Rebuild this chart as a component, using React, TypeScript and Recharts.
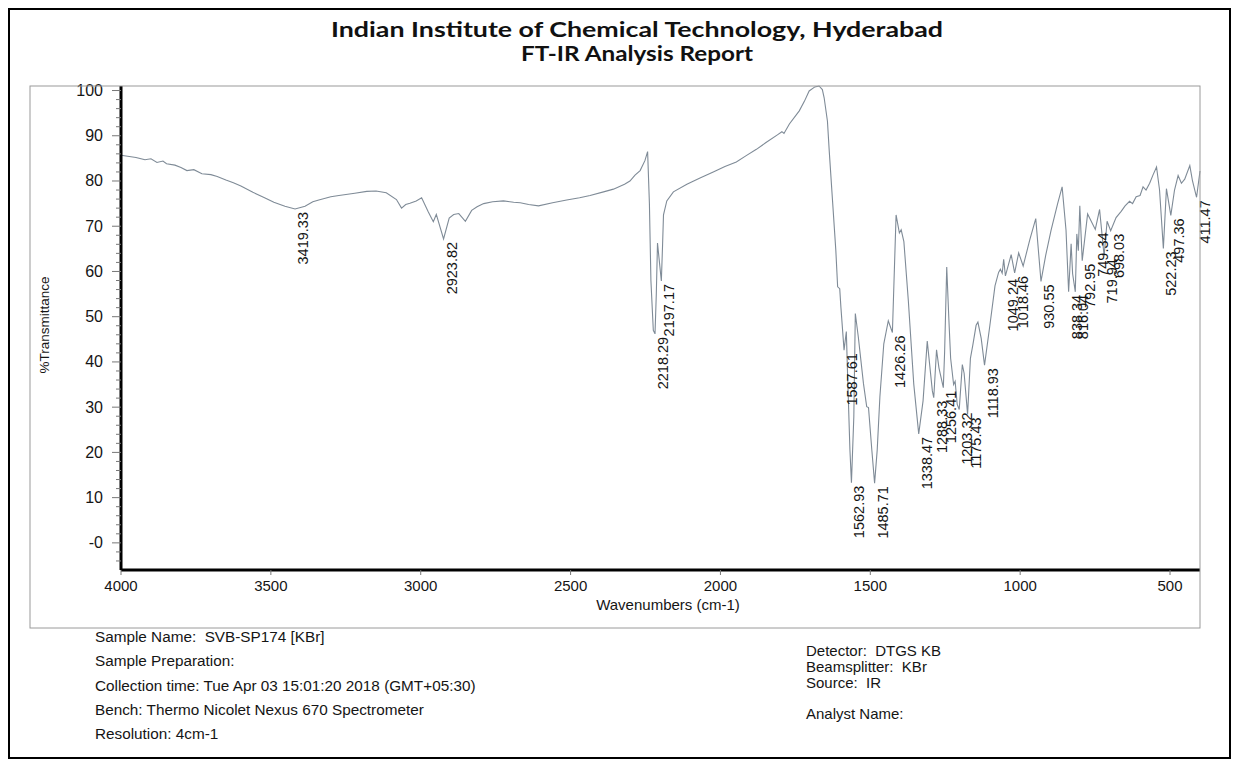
import React from "react";
import { Line, LineChart, XAxis, YAxis } from "recharts";

// FT-IR spectrum (wavenumber in cm-1, %T)
const wavenumbers = [
  4000, 3950, 3920, 3900, 3880, 3860, 3848, 3820, 3800, 3780,
  3757, 3730, 3700, 3679, 3650, 3625, 3600, 3560, 3521, 3490,
  3453, 3419.33, 3386, 3360, 3340, 3300, 3273, 3220, 3180, 3149,
  3115, 3081, 3064, 3050, 3036, 3015, 2997, 2975, 2958, 2948,
  2923.82, 2905, 2890, 2873, 2851, 2830, 2812, 2790, 2760, 2724,
  2690, 2668, 2640, 2607, 2560, 2513, 2470, 2435, 2390, 2357,
  2320, 2302, 2285, 2268, 2252, 2243, 2237, 2232, 2224, 2218.29,
  2214, 2210, 2205, 2197.17, 2193, 2190, 2179, 2157, 2112, 2070,
  2024, 1985, 1947, 1914, 1880, 1848, 1810, 1795, 1788, 1770,
  1737, 1720, 1704, 1685, 1671, 1660, 1654, 1643, 1637, 1626,
  1615, 1609, 1602, 1598, 1587.61, 1580, 1575, 1568, 1562.93, 1555,
  1550, 1540, 1523, 1512, 1506, 1495, 1485.71, 1477, 1468, 1455,
  1440, 1426.26, 1414, 1403, 1397, 1388, 1373, 1355, 1338.47, 1324,
  1310, 1293, 1288.33, 1279, 1271, 1256.41, 1252, 1245, 1238, 1232,
  1222, 1217, 1210, 1203.32, 1193, 1187, 1175.43, 1166, 1158, 1147,
  1141, 1130, 1118.93, 1101, 1084, 1072, 1066, 1060, 1055, 1049.24,
  1030, 1018.46, 1005, 990, 968, 948, 930.55, 915, 897, 875,
  860, 847, 838.34, 830, 825, 816.04, 811, 806, 801, 792.95,
  775, 749.34, 735, 719.94, 710, 698.03, 680, 663, 650, 635,
  625, 613, 600, 590, 580, 568, 557, 545, 535, 522.23,
  512, 497.36, 485, 473, 462, 451, 434, 425, 411.47, 400,
];

const transmittance = [
  85.7, 85.2, 84.7, 84.9, 84.1, 84.4, 83.8, 83.5, 83.0, 82.3,
  82.5, 81.6, 81.4, 81.0, 80.2, 79.6, 78.9, 77.5, 76.3, 75.3,
  74.4, 73.8, 74.4, 75.4, 75.8, 76.5, 76.8, 77.3, 77.7, 77.8,
  77.4, 75.9, 74.0, 74.8, 75.1, 75.6, 76.3, 73.2, 71.0, 72.6,
  67.2, 71.8, 72.6, 72.8, 71.1, 73.5, 74.3, 75.0, 75.4, 75.6,
  75.3, 75.2, 74.8, 74.5, 75.2, 75.8, 76.3, 76.8, 77.6, 78.2,
  79.3, 80.0, 81.3, 82.3, 84.5, 86.5, 75.0, 58.0, 47.0, 46.2,
  55.0, 66.3, 63.0, 57.9, 66.0, 72.5, 75.6, 77.6, 79.3, 80.6,
  82.0, 83.2, 84.2, 85.6, 87.0, 88.5, 90.2, 90.9, 90.5, 92.6,
  95.5, 97.6, 99.9, 100.8, 101.0, 100.2, 98.4, 93.2, 86.6, 75.6,
  64.6, 56.6, 56.2, 52.0, 42.6, 46.7, 35.4, 20.6, 13.3, 27.9,
  50.7, 45.5, 35.3, 30.1, 29.9, 20.6, 13.2, 20.5, 32.3, 44.0,
  49.1, 46.5, 72.5, 68.5, 69.2, 66.6, 53.4, 35.1, 24.1, 31.4,
  44.6, 33.6, 32.1, 42.7, 38.7, 34.3, 42.3, 61.0, 49.6, 40.8,
  35.0, 35.7, 30.6, 29.5, 39.4, 37.5, 28.4, 40.8, 43.7, 48.1,
  48.8, 45.2, 39.3, 48.1, 56.8, 59.8, 60.5, 59.6, 62.7, 59.0,
  63.7, 59.7, 64.1, 61.2, 67.0, 71.7, 57.8, 63.5, 69.1, 75.0,
  78.7, 69.1, 55.5, 66.1, 59.5, 55.5, 68.3, 64.6, 74.5, 62.4,
  72.7, 69.3, 73.7, 63.4, 71.1, 69.0, 71.9, 73.3, 74.5, 75.5,
  75.0, 76.5, 76.8, 78.7, 78.0, 79.5, 81.3, 83.1, 78.0, 65.1,
  78.3, 72.4, 78.0, 81.2, 79.5, 80.4, 83.4, 80.0, 76.4, 82.2,
];

const peakWavenumbers = [
  3419.33, 2923.82, 2218.29, 2197.17, 1587.61, 1562.93, 1485.71, 1426.26,
  1338.47, 1288.33, 1256.41, 1203.32, 1175.43, 1118.93, 1049.24, 1018.46,
  930.55, 838.34, 816.04, 792.95, 749.34, 719.94, 698.03, 522.23, 497.36,
  411.47,
];

const xTicks = [4000, 3500, 3000, 2500, 2000, 1500, 1000, 500];
const yTicks = [100, 90, 80, 70, 60, 50, 40, 30, 20, 10, 0];

const infoLeft = [
  "Sample Name:  SVB-SP174 [KBr]",
  "Sample Preparation:",
  "Collection time: Tue Apr 03 15:01:20 2018 (GMT+05:30)",
  "Bench: Thermo Nicolet Nexus 670 Spectrometer",
  "Resolution: 4cm-1",
];
const infoRight = ["Detector:  DTGS KB", "Beamsplitter:  KBr", "Source:  IR", "Analyst Name:"];

const W = 1223;
const H = 751;
const PLOT_LEFT = 113;
const PLOT_RIGHT = 1192;
const PLOT_TOP = 78;
const PLOT_BOTTOM = 562;
const FRAME_BOTTOM = 620;
const YAXIS_W = 80;
const XAXIS_H = 40;
const FONT = "'Liberation Sans', Arial, sans-serif";

const peakSet = new Set(peakWavenumbers);
const data = wavenumbers.map((wn, i) => ({
  wn,
  t: transmittance[i],
  peak: peakSet.has(wn),
}));

// minor ticks every 2 %T, labels only on the tens
const yAllTicks: number[] = [];
for (let v = -4; v <= 100; v += 2) yAllTicks.push(v);

function YTick(props: any) {
  const { y, payload } = props;
  const v = payload.value as number;
  const major = yTicks.includes(v);
  return (
    <g>
      <line
        x1={PLOT_LEFT - (major ? 9 : 5)}
        x2={PLOT_LEFT}
        y1={y}
        y2={y}
        stroke="#777"
        strokeWidth={1}
      />
      {major && (
        <text
          x={PLOT_LEFT - 18}
          y={y + 5.5}
          textAnchor="end"
          fontSize={16}
          fontFamily={FONT}
          fill="#151515"
        >
          {v === 0 ? "-0" : v}
        </text>
      )}
    </g>
  );
}

function XTick(props: any) {
  const { x, payload } = props;
  return (
    <g>
      <line x1={x} x2={x} y1={PLOT_BOTTOM} y2={PLOT_BOTTOM + 5} stroke="#777" />
      <text
        x={x}
        y={PLOT_BOTTOM + 21}
        textAnchor="middle"
        fontSize={15}
        fontFamily={FONT}
        fill="#151515"
      >
        {payload.value}
      </text>
    </g>
  );
}

function PeakLabel(props: any) {
  const { cx, cy, payload, index } = props;
  if (!payload || !payload.peak || cx == null || cy == null) {
    return <g key={`p${index}`} />;
  }
  const tx = cx + 13;
  const ty = cy + 3;
  return (
    <text
      key={`p${index}`}
      x={tx}
      y={ty}
      transform={`rotate(-90 ${tx} ${ty})`}
      textAnchor="end"
      fontSize={14.5}
      fontFamily={FONT}
      fill="#151515"
    >
      {payload.wn.toFixed(2)}
    </text>
  );
}

export default function App() {
  return (
    <div style={{ position: "relative", width: W, height: H, background: "#fff" }}>
      <LineChart
        width={W}
        height={H}
        data={data}
        margin={{
          top: PLOT_TOP,
          right: W - PLOT_RIGHT,
          bottom: H - PLOT_BOTTOM - XAXIS_H,
          left: PLOT_LEFT - YAXIS_W,
        }}
      >
        <XAxis
          type="number"
          dataKey="wn"
          domain={[400, 4000]}
          reversed
          ticks={xTicks}
          interval={0}
          height={XAXIS_H}
          tick={<XTick />}
          tickLine={false}
          axisLine={{ stroke: "#000", strokeWidth: 3 }}
        />
        <YAxis
          type="number"
          domain={[-6, 101]}
          ticks={yAllTicks}
          interval={0}
          width={YAXIS_W}
          tick={<YTick />}
          tickLine={false}
          axisLine={{ stroke: "#000", strokeWidth: 3 }}
        />
        <Line
          type="linear"
          dataKey="t"
          stroke="#7f8b97"
          strokeWidth={1.1}
          dot={PeakLabel}
          activeDot={false}
          isAnimationActive={false}
        />
      </LineChart>

      <svg
        width={W}
        height={H}
        style={{ position: "absolute", left: 0, top: 0, pointerEvents: "none" }}
      >
        <rect x={1} y={1} width={W - 2} height={H - 2} fill="none" stroke="#000" strokeWidth={2} />
        <rect
          x={22}
          y={PLOT_TOP}
          width={PLOT_RIGHT - 22}
          height={FRAME_BOTTOM - PLOT_TOP}
          fill="none"
          stroke="#9a9a9a"
          strokeWidth={1}
        />
        <text
          x={629}
          y={29}
          textAnchor="middle"
          fontSize={21}
          fontWeight="bold"
          fontFamily="Lato, 'DejaVu Sans', sans-serif"
          textLength={612}
          lengthAdjust="spacingAndGlyphs"
          fill="#111"
        >
          Indian Institute of Chemical Technology, Hyderabad
        </text>
        <text
          x={629}
          y={53}
          textAnchor="middle"
          fontSize={21}
          fontWeight="bold"
          fontFamily="Lato, 'DejaVu Sans', sans-serif"
          textLength={232}
          lengthAdjust="spacingAndGlyphs"
          fill="#111"
        >
          FT-IR Analysis Report
        </text>
        <text
          x={41}
          y={317}
          transform="rotate(-90 41 317)"
          textAnchor="middle"
          fontSize={13.5}
          fontFamily={FONT}
          fill="#151515"
        >
          %Transmittance
        </text>
        <text
          x={660}
          y={602}
          textAnchor="middle"
          fontSize={15}
          fontFamily={FONT}
          fill="#151515"
        >
          Wavenumbers (cm-1)
        </text>
        {infoLeft.map((line, i) => (
          <text
            key={line}
            x={87}
            y={634 + i * 24.3}
            fontSize={15.3}
            fontFamily={FONT}
            fill="#151515"
            style={{ whiteSpace: "pre" }}
          >
            {line}
          </text>
        ))}
        {infoRight.map((line, i) => (
          <text
            key={line}
            x={798}
            y={648 + i * 16 + (i === 3 ? 15 : 0)}
            fontSize={15}
            fontFamily={FONT}
            fill="#151515"
            style={{ whiteSpace: "pre" }}
          >
            {line}
          </text>
        ))}
      </svg>
    </div>
  );
}
